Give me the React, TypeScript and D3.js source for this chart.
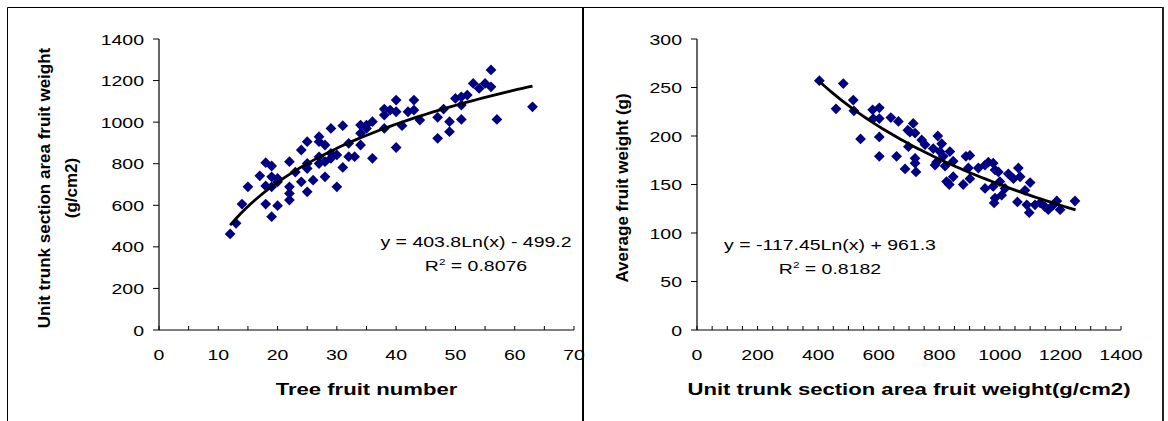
import React from 'react';
import * as d3 from 'd3';

// Panel A: tree fruit number vs. unit trunk section area fruit weight
const fruitNumber = [
  12, 13, 14, 15, 17, 18, 19, 18, 18, 19, 19, 20, 19, 20, 22, 22, 22, 22, 24, 25,
  25, 25, 24, 25, 26, 27, 27, 27, 28, 28, 28, 29, 29, 30, 30, 31, 31, 32, 32, 33,
  34, 34, 34, 35, 36, 36, 38, 38, 38, 39, 40, 40, 40, 41, 42, 43, 43, 44, 47, 47,
  48, 49, 49, 50, 51, 51, 52, 53, 54, 55, 56, 56, 57, 63, 20, 27, 35, 51, 23, 29,
];
const trunkWeightA = [
  462, 513, 606, 689, 742, 805, 789, 693, 606, 689, 545, 598, 737, 713, 810, 689, 657, 625, 866, 906,
  801, 777, 713, 665, 721, 930, 833, 906, 890, 737, 810, 970, 826, 842, 689, 983, 782, 834, 898, 834,
  946, 986, 890, 986, 1002, 826, 1063, 1034, 970, 1058, 1106, 1050, 878, 983, 1050, 1106, 1058, 1010, 1023, 922,
  1063, 1002, 954, 1114, 1082, 1013, 1130, 1186, 1162, 1186, 1251, 1170, 1013, 1074, 729, 801, 970, 1122, 760, 850,
];

// Panel B: unit trunk section area fruit weight vs. average fruit weight
const trunkWeightB = [
  404, 483, 459, 516, 518, 540, 580, 602, 582, 602, 602, 602, 640, 665, 659, 687, 696, 714, 703, 720,
  698, 720, 720, 723, 742, 753, 780, 795, 786, 808, 813, 819, 835, 824, 833, 846, 846, 879, 888, 901,
  896, 901, 929, 951, 951, 962, 978, 984, 978, 984, 981, 995, 1000, 1006, 1017, 1028, 1045, 1061, 1058, 1067,
  1083, 1100, 1097, 1089, 1116, 1133, 1160, 1177, 1188, 1199, 1248, 1149, 802, 791,
];
const avgFruitWeight = [
  257, 254, 228, 237, 226, 197, 227, 229, 218, 218, 199, 179, 219, 215, 179, 166, 206, 213, 204, 203,
  189, 177, 172, 163, 196, 191, 187, 200, 170, 192, 179, 169, 184, 153, 150, 158, 174, 150, 179, 180,
  167, 156, 167, 170, 146, 173, 172, 165, 148, 136, 131, 163, 153, 139, 146, 161, 156, 167, 132, 158,
  144, 152, 121, 129, 129, 131, 124, 129, 133, 124, 133, 127, 184, 173,
];

// Logarithmic trend lines: y = k * ln(x) + c
const fitA = { k: 403.8, c: -499.2, from: 12, to: 63 };
const fitB = { k: -117.45, c: 961.3, from: 404, to: 1250 };
const eqA = ['y = 403.8Ln(x) - 499.2', '0.8076'];
const eqB = ['y = -117.45Ln(x) + 961.3', '0.8182'];

const ticksAX = d3.range(0, 71, 10);
const minorAX = d3.range(0, 71, 5);
const ticksAY = d3.range(0, 1401, 200);
const ticksBX = d3.range(0, 1401, 200);
const minorBX = d3.range(0, 1401, 50);
const ticksBY = d3.range(0, 301, 50);

const FONT = "'Liberation Sans', Arial, sans-serif";
const NAVY = '#000080';
const SX = 1.3;

const Wide = ({ x, y, size, bold, anchor = 'middle', children }: any) => (
  <text
    transform={`translate(${x},${y}) scale(${SX},1)`}
    textAnchor={anchor}
    fontSize={size}
    fontWeight={bold ? 'bold' : 'normal'}
    fontFamily={FONT}
    fill="#000"
  >
    {children}
  </text>
);

const diamond = d3.symbol(d3.symbolSquare, 58)();

function Panel({ xScale, yScale, xTicks, xMinor, yTicks, xs, ys, fit, eq, eqX, eqY, xTitle, yTitles, yTitleX }: any) {
  const [x0, x1] = xScale.range();
  const [y0, y1] = yScale.range();
  const samples = d3.range(0, 61).map((i) => fit.from + ((fit.to - fit.from) * i) / 60);
  const line = d3
    .line<number>()
    .x((d) => xScale(d))
    .y((d) => yScale(fit.k * Math.log(d) + fit.c));
  const yMid = 188;
  return (
    <g>
      {/* axes */}
      <line x1={x0} x2={x1} y1={y0} y2={y0} stroke="#000" strokeWidth={1.2} />
      <line x1={x0} x2={x0} y1={y0} y2={y1} stroke="#000" strokeWidth={1.2} />
      {xMinor.map((t: number) => (
        <line key={'xm' + t} x1={xScale(t)} x2={xScale(t)} y1={y0} y2={y0 - 4} stroke="#000" strokeWidth={1} />
      ))}
      {yTicks.map((t: number) => (
        <line key={'yt' + t} x1={x0 - 6} x2={x0} y1={yScale(t)} y2={yScale(t)} stroke="#000" strokeWidth={1} />
      ))}
      {xTicks.map((t: number) => (
        <Wide key={'xl' + t} x={xScale(t)} y={y0 + 30} size={15}>
          {t}
        </Wide>
      ))}
      {yTicks.map((t: number) => (
        <Wide key={'yl' + t} x={x0 - 15} y={yScale(t) + 5.5} size={15} anchor="end">
          {t}
        </Wide>
      ))}
      {/* data */}
      {xs.map((v: number, i: number) => (
        <path
          key={'p' + i}
          d={diamond as string}
          transform={`translate(${xScale(v)},${yScale(ys[i])}) rotate(45)`}
          fill={NAVY}
        />
      ))}
      <path d={line(samples) as string} fill="none" stroke="#000" strokeWidth={2.8} strokeLinejoin="round" />
      {/* trend equation */}
      <Wide x={eqX} y={eqY} size={15}>
        {eq[0]}
      </Wide>
      <text
        transform={`translate(${eqX},${eqY + 24}) scale(${SX},1)`}
        textAnchor="middle"
        fontSize={15}
        fontFamily={FONT}
      >
        R<tspan fontSize={9} dy={-6}>2</tspan>
        <tspan dy={6}> = {eq[1]}</tspan>
      </text>
      {/* titles */}
      <Wide x={(x0 + x1) / 2} y={395} size={17} bold>
        {xTitle}
      </Wide>
      {yTitles.map((s: string, i: number) => (
        <text
          key={'yt' + i}
          transform={`translate(${yTitleX[i]},${yMid}) rotate(-90)`}
          textAnchor="middle"
          fontSize={17}
          fontWeight="bold"
          fontFamily={FONT}
        >
          {s}
        </text>
      ))}
    </g>
  );
}

export default function App() {
  const xA = d3.scaleLinear().domain([0, 70]).range([159, 574]);
  const yA = d3.scaleLinear().domain([0, 1400]).range([330, 39]);
  const xB = d3.scaleLinear().domain([0, 1400]).range([697, 1121]);
  const yB = d3.scaleLinear().domain([0, 300]).range([330, 39]);
  return (
    <svg
      width={1168}
      height={421}
      style={{ position: 'absolute', left: 0, top: 0, background: '#fff' }}
    >
      <rect x={0} y={0} width={1168} height={421} fill="#fff" />
      {/* panel frames */}
      <path d="M7.5,421 V7.5 H583" fill="none" stroke="#000" strokeWidth={1} />
      <path d="M583,7.5 H1163" fill="none" stroke="#000" strokeWidth={1} />
      <line x1={583} x2={583} y1={7} y2={421} stroke="#000" strokeWidth={2} />
      <line x1={1163} x2={1163} y1={7} y2={421} stroke="#222" strokeWidth={2} />
      <Panel
        xScale={xA}
        yScale={yA}
        xTicks={ticksAX}
        xMinor={minorAX}
        yTicks={ticksAY}
        xs={fruitNumber}
        ys={trunkWeightA}
        fit={fitA}
        eq={eqA}
        eqX={476}
        eqY={247}
        xTitle="Tree fruit number"
        yTitles={['Unit trunk section area fruit weight', '(g/cm2)']}
        yTitleX={[50, 77]}
      />
      <Panel
        xScale={xB}
        yScale={yB}
        xTicks={ticksBX}
        xMinor={minorBX}
        yTicks={ticksBY}
        xs={trunkWeightB}
        ys={avgFruitWeight}
        fit={fitB}
        eq={eqB}
        eqX={830}
        eqY={250}
        xTitle="Unit trunk section area fruit weight(g/cm2)"
        yTitles={['Average fruit weight (g)']}
        yTitleX={[628]}
      />
    </svg>
  );
}
